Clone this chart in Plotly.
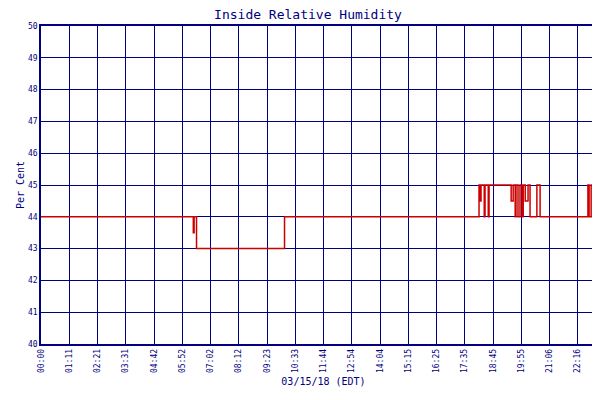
import plotly.graph_objects as go

times = [0, 379, 381, 387, 606, 1090, 1092, 1095, 1103, 1105, 1113, 1115, 1170, 1175, 1180, 1182,
         1187, 1192, 1197, 1200, 1205, 1212, 1217, 1234, 1242, 1361, 1364, 1369, 1406]
humidity = [44, 43.5, 44, 43, 44, 45, 44.5, 45, 44, 45, 44, 45, 44.5, 45, 44, 45,
            44, 45, 44, 45, 44.5, 45, 44, 45, 44, 45, 44, 45, 45]
tick_labels = ["00:00", "01:11", "02:21", "03:31", "04:42", "05:52", "07:02", "08:12", "09:23", "10:33",
               "11:44", "12:54", "14:04", "15:15", "16:25", "17:35", "18:45", "19:55", "21:06", "22:16", "23:26"]
tick_vals = [i * 1406 / 20 for i in range(21)]

navy = "#000080"
fig = go.Figure(go.Scatter(x=times, y=humidity, mode="lines", line=dict(color="#cc0000", width=1.5, shape="hv"),
                           name="Relative Humidity"))
font = "DejaVu Sans Mono"
fig.update_layout(
    width=600, height=400, margin=dict(l=33, r=2, t=18, b=64, autoexpand=False),
    paper_bgcolor="white", plot_bgcolor="white",
    title=dict(text="Inside Relative Humidity", x=0.5, xanchor="center", y=0.995, yanchor="top",
               font=dict(family=font, size=13, color=navy)),
    font=dict(family=font, color=navy),
    showlegend=True,
    legend=dict(orientation="h", x=0.5, xanchor="center", y=-0.17, yanchor="top",
                font=dict(size=8, color=navy), bgcolor="rgba(0,0,0,0)"),
)
fig.update_xaxes(range=[0, 1406], tickvals=tick_vals, ticktext=tick_labels, tickangle=-90, automargin=False,
                 tickfont=dict(size=8, color=navy), showgrid=True, gridcolor=navy, gridwidth=1.2,
                 showline=True, linecolor=navy, linewidth=1.5, mirror=True, ticks="",
                 title=dict(text="03/15/18 (EDT)", font=dict(size=10, color=navy), standoff=6))
fig.update_yaxes(range=[40, 50], dtick=1, tickfont=dict(size=8, color=navy), showgrid=True, automargin=False,
                 gridcolor=navy, gridwidth=1.2, showline=True, linecolor=navy, linewidth=1.5, mirror=True,
                 ticks="", zeroline=False,
                 title=dict(text="Per Cent", font=dict(size=10, color=navy), standoff=2))
fig.write_html("out.html")
